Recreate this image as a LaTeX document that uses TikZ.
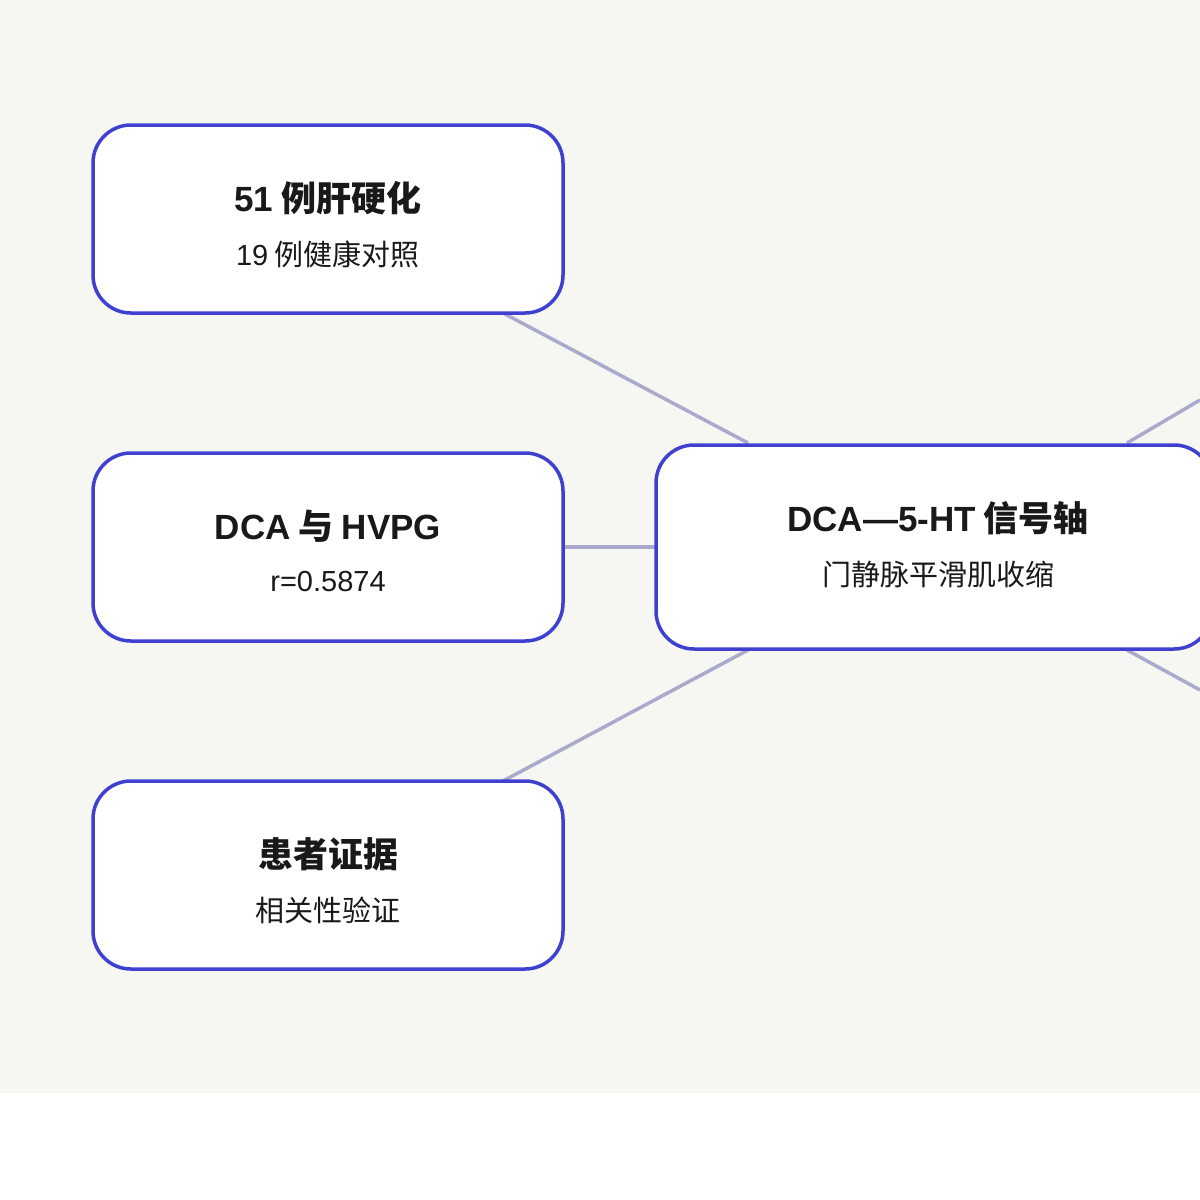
\documentclass[tikz,border=0pt]{standalone}
\usepackage{fontspec}
\setmainfont{Noto Sans CJK SC}
\newfontfamily\lat{Liberation Sans}
\begin{document}
\begin{tikzpicture}[x=1pt,y=-1pt,
  box/.style={draw=bd,line width=3.5pt,fill=white,rounded corners=38pt,inner sep=0pt},
  con/.style={draw=cn,line width=3.5pt},
  tt/.style={font=\fontsize{35}{40}\selectfont\bfseries,text=black!90},
  st/.style={font=\fontsize{29}{34}\selectfont,text=black!90}]
\definecolor{bd}{HTML}{4040D0}
\definecolor{cn}{HTML}{AAAACC}
\definecolor{bg}{HTML}{F6F6F2}
\useasboundingbox (0,0) rectangle (1200,1200);
\clip (0,0) rectangle (1200,1200);
\fill[bg] (0,0) rectangle (1200,1093);
\coordinate (r1) at (1200,400);
\coordinate (r2) at (1200,690);
\draw[con] (503,313) coordinate (a1) -- (748,443) coordinate (c1);
\draw[con] (563,547) -- (656,547);
\draw[con] (503,781) -- (748,650);
\draw[con] (1127,443) coordinate (c2) -- (r1);
\draw[con] (1127,650) coordinate (c3) -- (r2);
\node[box,minimum width=470pt,minimum height=188pt] (b1) at (328,219) {};
\node[box,minimum width=470pt,minimum height=188pt] (b2) at (328,547) {};
\node[box,minimum width=470pt,minimum height=188pt] (b3) at (328,875) {};
\node[box,minimum width=556pt,minimum height=204pt] (c) at (934,547) {};
\node[tt] (t1) at (328,198) {{\lat 51} 例肝硬化};
\node[st] (s1) at (328,254) {{\lat 19} 例健康对照};
\node[tt] (t2) at (328,526) {{\lat DCA} 与 {\lat HVPG}};
\node[st] (s2) at (328,582) {\lat r=0.5874};
\node[tt] (t3) at (328,854) {患者证据};
\node[st] (s3) at (328,910) {相关性验证};
\node[tt] (tc) at (938,518) {{\lat DCA—5-HT} 信号轴};
\node[st] (sc) at (938,575) {门静脉平滑肌收缩};
\end{tikzpicture}
\end{document}
